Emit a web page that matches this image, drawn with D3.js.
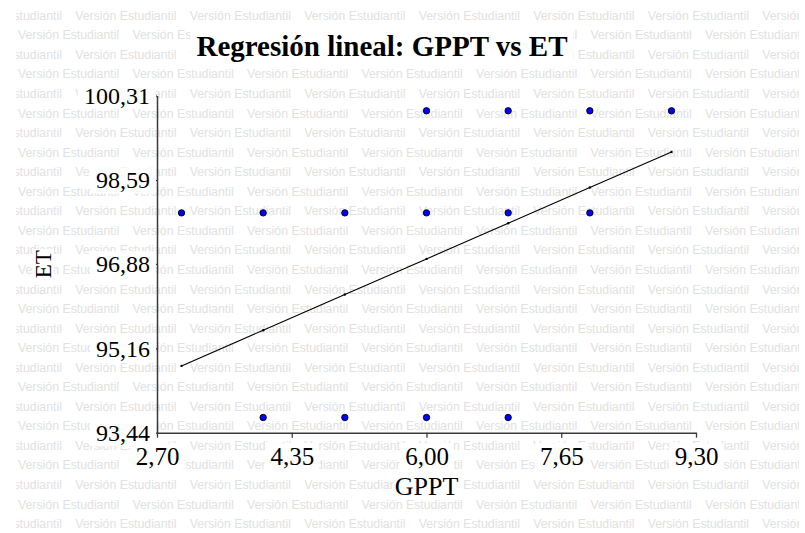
<!DOCTYPE html>
<html>
<head>
<meta charset="utf-8">
<script src="https://cdn.jsdelivr.net/npm/d3@7/dist/d3.min.js"></script>
<style>
  body { margin: 0; background: #fff; }
  svg { display: block; }
</style>
</head>
<body>
<svg id="chart" width="805" height="533"></svg>
<script>
// Observations: GPPT (x) and ET (y)
const gppt = [6, 7, 8, 9, 3, 4, 5, 6, 7, 8, 4, 5, 6, 7];
const et   = [100, 100, 100, 100, 97.92, 97.92, 97.92, 97.92, 97.92, 97.92, 93.75, 93.75, 93.75, 93.75];

// Fitted regression line ET = a + b * GPPT
const fitIntercept = 92.62;
const fitSlope = 0.727;
const fitX = [3, 4, 5, 6, 7, 8, 9];

// Axis ticks
const xTicks = [2.70, 4.35, 6.00, 7.65, 9.30];
const yTicks = [93.44, 95.16, 96.88, 98.59, 100.31];

const titleText = "Regresión lineal: GPPT vs ET";
const xLabel = "GPPT";
const yLabel = "ET";
const watermark = "Versión Estudiantil";

const W = 805, H = 533;
const plot = { left: 157, right: 696, top: 95.6, bottom: 432.7 };
const serif = "'Liberation Serif', 'Times New Roman', serif";
const axisColor = "#3a3a3a";

const svg = d3.select("#chart");
const comma = v => d3.format(".2f")(v).replace(".", ",");

const x = d3.scaleLinear().domain([xTicks[0], xTicks[xTicks.length - 1]]).range([plot.left, plot.right]);
const y = d3.scaleLinear().domain([yTicks[0], yTicks[yTicks.length - 1]]).range([plot.bottom, plot.top]);

// Background watermark rows
svg.append("defs").append("clipPath").attr("id", "wmclip")
  .append("rect").attr("x", 16).attr("y", 0).attr("width", 783).attr("height", H);
const wm = svg.append("g").attr("clip-path", "url(#wmclip)")
  .attr("font-family", "'Liberation Sans', Arial, sans-serif")
  .attr("font-size", 12.3).attr("fill", "#e1e1e1");
const period = 114.5, rowStep = 19.55;
for (let k = 0; k < 28; k++) {
  const offset = (k % 2 === 1) ? 18 : 18 + period / 2;
  for (let n = -1; n < 8; n++) {
    wm.append("text").attr("x", offset + n * period).attr("y", 19.8 + k * rowStep).text(watermark);
  }
}

// White box behind a text element
function boxBehind(sel, padX, padY, extendRight) {
  sel.each(function () {
    const b = this.getBBox();
    const parent = this.parentNode;
    const r = document.createElementNS("http://www.w3.org/2000/svg", "rect");
    const right = extendRight != null ? extendRight : b.x + b.width + padX;
    r.setAttribute("x", b.x - padX);
    r.setAttribute("y", b.y - padY);
    r.setAttribute("width", right - (b.x - padX));
    r.setAttribute("height", b.height + 2 * padY);
    r.setAttribute("fill", "#fff");
    parent.insertBefore(r, this);
  });
}

// Title
const title = svg.append("g").append("text")
  .attr("x", 382).attr("y", 56)
  .attr("text-anchor", "middle")
  .attr("font-family", serif).attr("font-weight", "bold").attr("font-size", 29)
  .attr("fill", "#000").text(titleText);
boxBehind(title, 6, 0);

// Axes
const xAxis = svg.append("g").attr("transform", `translate(0,${plot.bottom})`)
  .call(d3.axisBottom(x).tickValues(xTicks).tickFormat(comma).tickSize(5).tickSizeOuter(0).tickPadding(5));
const yAxis = svg.append("g").attr("transform", `translate(${plot.left},0)`)
  .call(d3.axisLeft(y).tickValues(yTicks).tickFormat(comma).tickSize(5).tickSizeOuter(0).tickPadding(2));

[xAxis, yAxis].forEach(g => {
  g.attr("font-family", null).attr("font-size", null);
  g.select(".domain").attr("stroke", axisColor).attr("stroke-width", 1.5);
  g.selectAll(".tick line").attr("stroke", axisColor).attr("stroke-width", 1.3);
  g.selectAll(".tick text").attr("font-family", serif).attr("fill", "#000");
});
xAxis.selectAll(".tick text").attr("font-size", 25).attr("dy", "0.9em");
yAxis.selectAll(".tick text").attr("font-size", 24).attr("dy", "0.33em");
boxBehind(xAxis.selectAll(".tick text"), 5, 0);
boxBehind(yAxis.selectAll(".tick text"), 6, 0, -1);

// Axis titles
const xl = svg.append("g").append("text")
  .attr("x", (plot.left + plot.right) / 2).attr("y", 495)
  .attr("text-anchor", "middle").attr("font-family", serif).attr("font-size", 26)
  .attr("fill", "#000").text(xLabel);
boxBehind(xl, 1, -3);
const ylg = svg.append("g").attr("transform", `translate(51,${(plot.top + plot.bottom) / 2}) rotate(-90)`);
const yl = ylg.append("text").attr("x", 0).attr("y", 0)
  .attr("text-anchor", "middle").attr("font-family", serif).attr("font-size", 23)
  .attr("fill", "#000").text(yLabel);
boxBehind(yl, 1, -2);

// Regression line with markers at fitted values
const fitted = fitX.map(v => ({ x: v, y: fitIntercept + fitSlope * v }));
svg.append("path").datum(fitted)
  .attr("fill", "none").attr("stroke", "#000").attr("stroke-width", 1.1)
  .attr("d", d3.line().x(d => x(d.x)).y(d => y(d.y)));
svg.append("g").selectAll("circle").data(fitted).join("circle")
  .attr("cx", d => x(d.x)).attr("cy", d => y(d.y)).attr("r", 1.2).attr("fill", "#000");

// Observed points
svg.append("g").selectAll("circle").data(gppt.map((g, i) => ({ x: g, y: et[i] }))).join("circle")
  .attr("cx", d => x(d.x)).attr("cy", d => y(d.y)).attr("r", 3.2)
  .attr("fill", "#0000ff").attr("stroke", "#000").attr("stroke-width", 0.9);
</script>
</body>
</html>
